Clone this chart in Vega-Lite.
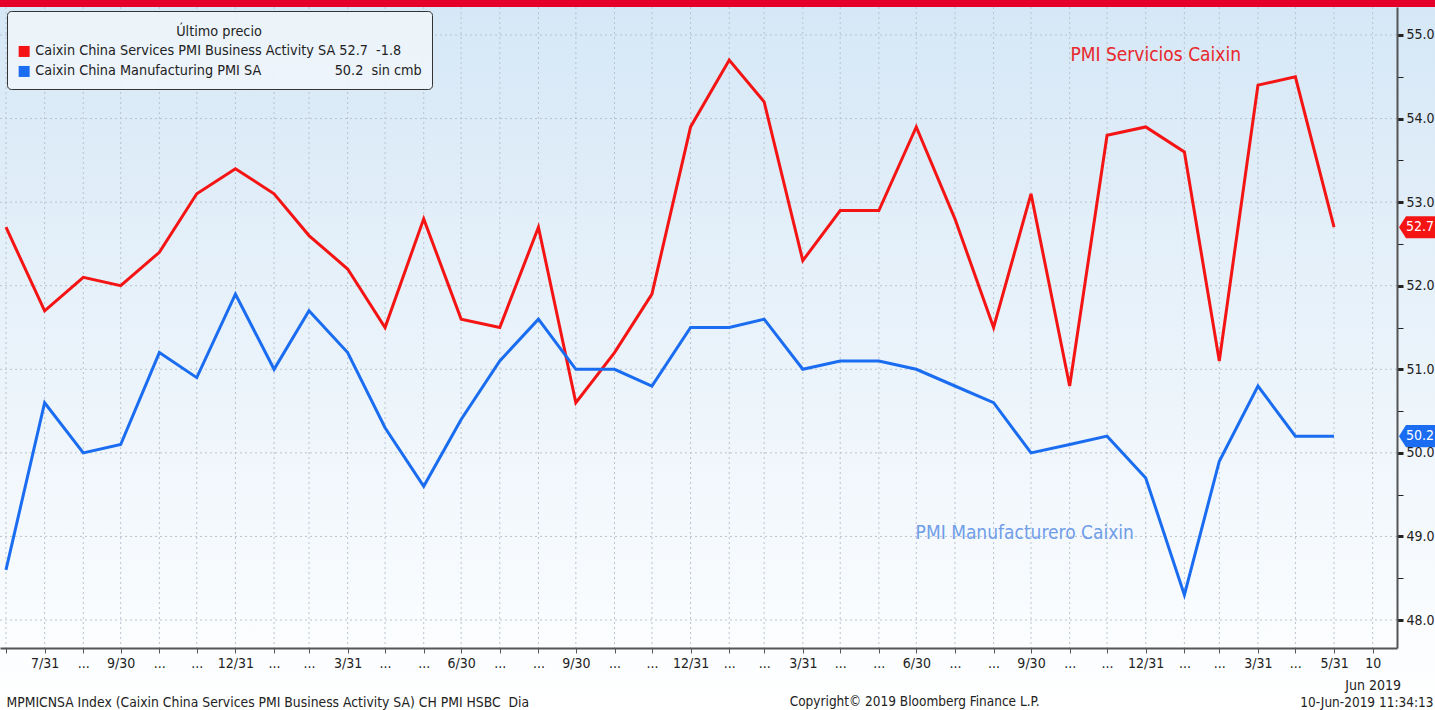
{
  "$schema": "https://vega.github.io/schema/vega-lite/v6.json",
  "width": 1397,
  "height": 641,
  "autosize": {"type": "none"},
  "padding": {"top": 7, "left": 0, "right": 38, "bottom": 62},
  "background": "#ffffff",
  "config": {"view": {"stroke": null}, "font": "DejaVu Sans Condensed, Liberation Sans Narrow, DejaVu Sans", "axis": {"labelOverlap": false}},
  "data": {"values": [
    {"date": "2016-06-30", "services": 52.7, "manufacturing": 48.6},
    {"date": "2016-07-31", "services": 51.7, "manufacturing": 50.6},
    {"date": "2016-08-31", "services": 52.1, "manufacturing": 50.0},
    {"date": "2016-09-30", "services": 52.0, "manufacturing": 50.1},
    {"date": "2016-10-31", "services": 52.4, "manufacturing": 51.2},
    {"date": "2016-11-30", "services": 53.1, "manufacturing": 50.9},
    {"date": "2016-12-31", "services": 53.4, "manufacturing": 51.9},
    {"date": "2017-01-31", "services": 53.1, "manufacturing": 51.0},
    {"date": "2017-02-28", "services": 52.6, "manufacturing": 51.7},
    {"date": "2017-03-31", "services": 52.2, "manufacturing": 51.2},
    {"date": "2017-04-30", "services": 51.5, "manufacturing": 50.3},
    {"date": "2017-05-31", "services": 52.8, "manufacturing": 49.6},
    {"date": "2017-06-30", "services": 51.6, "manufacturing": 50.4},
    {"date": "2017-07-31", "services": 51.5, "manufacturing": 51.1},
    {"date": "2017-08-31", "services": 52.7, "manufacturing": 51.6},
    {"date": "2017-09-30", "services": 50.6, "manufacturing": 51.0},
    {"date": "2017-10-31", "services": 51.2, "manufacturing": 51.0},
    {"date": "2017-11-30", "services": 51.9, "manufacturing": 50.8},
    {"date": "2017-12-31", "services": 53.9, "manufacturing": 51.5},
    {"date": "2018-01-31", "services": 54.7, "manufacturing": 51.5},
    {"date": "2018-02-28", "services": 54.2, "manufacturing": 51.6},
    {"date": "2018-03-31", "services": 52.3, "manufacturing": 51.0},
    {"date": "2018-04-30", "services": 52.9, "manufacturing": 51.1},
    {"date": "2018-05-31", "services": 52.9, "manufacturing": 51.1},
    {"date": "2018-06-30", "services": 53.9, "manufacturing": 51.0},
    {"date": "2018-07-31", "services": 52.8, "manufacturing": 50.8},
    {"date": "2018-08-31", "services": 51.5, "manufacturing": 50.6},
    {"date": "2018-09-30", "services": 53.1, "manufacturing": 50.0},
    {"date": "2018-10-31", "services": 50.8, "manufacturing": 50.1},
    {"date": "2018-11-30", "services": 53.8, "manufacturing": 50.2},
    {"date": "2018-12-31", "services": 53.9, "manufacturing": 49.7},
    {"date": "2019-01-31", "services": 53.6, "manufacturing": 48.3},
    {"date": "2019-02-28", "services": 51.1, "manufacturing": 49.9},
    {"date": "2019-03-31", "services": 54.4, "manufacturing": 50.8},
    {"date": "2019-04-30", "services": 54.5, "manufacturing": 50.2},
    {"date": "2019-05-31", "services": 52.7, "manufacturing": 50.2}
  ]},
  "layer": [
    {
      "data": {"values": [{}]},
      "mark": {"type": "rect", "fill": {"gradient": "linear", "x1": 0, "y1": 0, "x2": 0, "y2": 1, "stops": [{"offset": 0, "color": "#d5e7f6"}, {"offset": 1, "color": "#ffffff"}]}},
      "encoding": {
        "x": {"datum": {"year": 2016, "month": 6, "date": 20, "utc": true}, "type": "temporal"},
        "x2": {"datum": {"year": 2019, "month": 8, "date": 25, "utc": true}},
        "y": {"datum": 55.42, "type": "quantitative"},
        "y2": {"datum": 46.92}
      }
    },
    {
      "data": {"values": [{}]},
      "mark": {"type": "rect", "fill": "#e4002b"},
      "encoding": {
        "x": {"datum": {"year": 2016, "month": 6, "date": 20, "utc": true}, "type": "temporal"},
        "x2": {"datum": {"year": 2019, "month": 8, "date": 25, "utc": true}},
        "y": {"datum": 55.5, "type": "quantitative"},
        "y2": {"datum": 55.335}
      }
    },
    {
      "mark": {"type": "rule", "stroke": "#b9c3ce", "strokeWidth": 1, "strokeDash": [2, 3]},
      "encoding": {"x": {"field": "date", "type": "temporal"}}
    },
    {
      "data": {"values": [{}]},
      "mark": {"type": "rule", "stroke": "#b9c3ce", "strokeWidth": 1, "strokeDash": [2, 3]},
      "encoding": {"x": {"datum": {"year": 2019, "month": 7, "date": 1, "utc": true}, "type": "temporal"}}
    },
    {
      "data": {"values": [{"level": 48}, {"level": 49}, {"level": 50}, {"level": 51}, {"level": 52}, {"level": 53}, {"level": 54}, {"level": 55}]},
      "mark": {"type": "rule", "stroke": "#b9c3ce", "strokeWidth": 1, "strokeDash": [2, 3]},
      "encoding": {"y": {"field": "level", "type": "quantitative"}}
    },
    {
      "transform": [{"fold": ["services", "manufacturing"], "as": ["series", "value"]}],
      "mark": {"type": "line", "strokeWidth": 3, "strokeJoin": "miter"},
      "encoding": {
        "x": {
          "field": "date", "type": "temporal",
          "scale": {"type": "utc", "domain": [{"year": 2016, "month": 6, "date": 25, "hours": 5, "utc": true}, {"year": 2019, "month": 7, "date": 20, "hours": 12, "utc": true}]},
          "axis": {
            "tickCount": 200,
            "values": [
              {"year": 2016, "month": 6, "date": 30, "utc": true},
              {"year": 2016, "month": 7, "date": 31, "utc": true},
              {"year": 2016, "month": 8, "date": 31, "utc": true},
              {"year": 2016, "month": 9, "date": 30, "utc": true},
              {"year": 2016, "month": 10, "date": 31, "utc": true},
              {"year": 2016, "month": 11, "date": 30, "utc": true},
              {"year": 2016, "month": 12, "date": 31, "utc": true},
              {"year": 2017, "month": 1, "date": 31, "utc": true},
              {"year": 2017, "month": 2, "date": 28, "utc": true},
              {"year": 2017, "month": 3, "date": 31, "utc": true},
              {"year": 2017, "month": 4, "date": 30, "utc": true},
              {"year": 2017, "month": 5, "date": 31, "utc": true},
              {"year": 2017, "month": 6, "date": 30, "utc": true},
              {"year": 2017, "month": 7, "date": 31, "utc": true},
              {"year": 2017, "month": 8, "date": 31, "utc": true},
              {"year": 2017, "month": 9, "date": 30, "utc": true},
              {"year": 2017, "month": 10, "date": 31, "utc": true},
              {"year": 2017, "month": 11, "date": 30, "utc": true},
              {"year": 2017, "month": 12, "date": 31, "utc": true},
              {"year": 2018, "month": 1, "date": 31, "utc": true},
              {"year": 2018, "month": 2, "date": 28, "utc": true},
              {"year": 2018, "month": 3, "date": 31, "utc": true},
              {"year": 2018, "month": 4, "date": 30, "utc": true},
              {"year": 2018, "month": 5, "date": 31, "utc": true},
              {"year": 2018, "month": 6, "date": 30, "utc": true},
              {"year": 2018, "month": 7, "date": 31, "utc": true},
              {"year": 2018, "month": 8, "date": 31, "utc": true},
              {"year": 2018, "month": 9, "date": 30, "utc": true},
              {"year": 2018, "month": 10, "date": 31, "utc": true},
              {"year": 2018, "month": 11, "date": 30, "utc": true},
              {"year": 2018, "month": 12, "date": 31, "utc": true},
              {"year": 2019, "month": 1, "date": 31, "utc": true},
              {"year": 2019, "month": 2, "date": 28, "utc": true},
              {"year": 2019, "month": 3, "date": 31, "utc": true},
              {"year": 2019, "month": 4, "date": 30, "utc": true},
              {"year": 2019, "month": 5, "date": 31, "utc": true},
              {"year": 2019, "month": 7, "date": 1, "utc": true}
            ],
            "labelExpr": "(utcyear(datum.value) == 2019 && utcmonth(datum.value) == 6) ? ['10', 'Jun 2019'] : (utcyear(datum.value) == 2016 && utcmonth(datum.value) == 5) ? '' : ((utcmonth(datum.value) % 3 == 2) || (utcyear(datum.value) == 2016 && utcmonth(datum.value) == 6) || (utcyear(datum.value) == 2019 && utcmonth(datum.value) == 4)) ? (utcmonth(datum.value) + 1) + '/' + utcdate(datum.value) : '...'",
            "grid": false,
            "zindex": 1,
            "domainColor": "#555555",
            "domainWidth": 2,
            "tickColor": "#555555",
            "tickSize": 5,
            "tickWidth": 1,
            "labelFontSize": 14,
            "labelColor": "#222222",
            "labelPadding": 3,
            "labelLineHeight": 22,
            "labelOverlap": false,
            "labelFlush": false,
            "labelSeparation": 0,
            "title": "MPMICNSA Index (Caixin China Services PMI Business Activity SA) CH PMI HSBC\u00a0\u00a0Dia",
            "titleFontSize": 13.8,
            "titleFontWeight": "normal",
            "titleColor": "#222222",
            "titleAnchor": "start",
            "titleAlign": "left",
            "titleBaseline": "middle",
            "titleX": 6,
            "titleY": 54
          }
        },
        "y": {
          "field": "value", "type": "quantitative",
          "scale": {"domain": [47.665, 55.335], "nice": false, "zero": false},
          "axis": {
            "orient": "right",
            "tickCount": 100,
            "values": [48, 48.5, 49, 49.5, 50, 50.5, 51, 51.5, 52, 52.5, 53, 53.5, 54, 54.5, 55],
            "labelExpr": "datum.value % 1 == 0 ? format(datum.value, '.1f') : ''",
            "grid": false,
            "zindex": 1,
            "domainColor": "#555555",
            "domainWidth": 2,
            "tickColor": "#222222",
            "tickSize": 6,
            "tickWidth": {"condition": {"test": "datum.value % 1 == 0", "value": 3}, "value": 1},
            "labelFontSize": 14,
            "labelColor": "#222222",
            "labelPadding": 3,
            "labelOverlap": false,
            "title": "10-Jun-2019 11:34:13",
            "titleFontSize": 13.5,
            "titleFontWeight": "normal",
            "titleColor": "#222222",
            "titleAngle": 0,
            "titleAlign": "right",
            "titleBaseline": "middle",
            "titleX": 36,
            "titleY": 695
          }
        },
        "color": {
          "field": "series", "type": "nominal",
          "scale": {"domain": ["services", "manufacturing"], "range": ["#f41414", "#1a6cf0"]},
          "legend": {
            "title": "Último precio",
            "orient": "none",
            "legendX": 7,
            "legendY": 4,
            "direction": "vertical",
            "fillColor": "rgba(238,245,251,0.9)",
            "strokeColor": "#333333",
            "cornerRadius": 4,
            "padding": 10,
            "titleAnchor": "middle",
            "titleFontSize": 14.3,
            "titleFontWeight": "normal",
            "titleColor": "#222222",
            "titleBaseline": "line-top",
            "titleLineHeight": 22,
            "titlePadding": 9,
            "labelFontSize": 14.3,
            "labelColor": "#222222",
            "labelLimit": 600,
            "labelOffset": 4,
            "rowPadding": 5,
            "symbolType": "square",
            "symbolSize": 121,
            "symbolStrokeWidth": 0,
            "encode": {"symbols": {"update": {"fill": {"scale": "color", "field": "value"}, "fillOpacity": {"value": 1}}}},
            "labelExpr": "datum.value == 'services' ? 'Caixin China Services PMI Business Activity SA 52.7\u00a0\u00a0-1.8' : 'Caixin China Manufacturing PMI SA\u00a0\u00a0\u00a0\u00a0\u00a0\u00a0\u00a0\u00a0\u00a0\u00a0\u00a0\u00a0\u00a0\u00a0\u00a0\u00a0\u00a0\u00a050.2\u00a0\u00a0sin cmb'"
          }
        }
      }
    },
    {
      "transform": [
        {"fold": ["services"], "as": ["series", "value"]},
        {"filter": "utcyear(datum.date) == 2019 && utcmonth(datum.date) == 4"}
      ],
      "mark": {"type": "point", "shape": "M -1 0 L -0.63 -0.58 L 1 -0.58 L 1 0.58 L -0.63 0.58 Z", "size": 1444, "filled": true, "opacity": 1, "fill": "#f41414", "strokeWidth": 0, "xOffset": 21},
      "encoding": {"x": {"value": "width"}, "y": {"field": "value", "type": "quantitative"}}
    },
    {
      "transform": [
        {"fold": ["manufacturing"], "as": ["series", "value"]},
        {"filter": "utcyear(datum.date) == 2019 && utcmonth(datum.date) == 4"}
      ],
      "mark": {"type": "point", "shape": "M -1 0 L -0.63 -0.58 L 1 -0.58 L 1 0.58 L -0.63 0.58 Z", "size": 1444, "filled": true, "opacity": 1, "fill": "#1a6cf0", "strokeWidth": 0, "xOffset": 21},
      "encoding": {"x": {"value": "width"}, "y": {"field": "value", "type": "quantitative"}}
    },
    {
      "transform": [
        {"fold": ["services", "manufacturing"], "as": ["series", "value"]},
        {"filter": "utcyear(datum.date) == 2019 && utcmonth(datum.date) == 4"}
      ],
      "mark": {"type": "text", "color": "#ffffff", "fontSize": 14, "align": "center", "baseline": "middle", "xOffset": 23},
      "encoding": {"x": {"value": "width"}, "y": {"field": "value", "type": "quantitative"}, "text": {"field": "value", "type": "quantitative", "format": ".1f"}}
    },
    {
      "data": {"values": [{}]},
      "mark": {"type": "text", "text": "PMI Servicios Caixin", "color": "#e8282c", "fontSize": 19, "align": "center", "baseline": "middle"},
      "encoding": {
        "x": {"datum": {"year": 2019, "month": 1, "date": 8, "utc": true}, "type": "temporal"},
        "y": {"datum": 54.76, "type": "quantitative"}
      }
    },
    {
      "data": {"values": [{}]},
      "mark": {"type": "text", "text": "PMI Manufacturero Caixin", "color": "#6f9de8", "fontSize": 19, "align": "center", "baseline": "middle"},
      "encoding": {
        "x": {"datum": {"year": 2018, "month": 9, "date": 25, "utc": true}, "type": "temporal"},
        "y": {"datum": 49.04, "type": "quantitative"}
      }
    },
    {
      "data": {"values": [{}]},
      "mark": {"type": "text", "text": "Copyright© 2019 Bloomberg Finance L.P.", "color": "#222222", "fontSize": 13.5, "align": "center", "baseline": "middle"},
      "encoding": {
        "x": {"datum": {"year": 2018, "month": 6, "date": 28, "hours": 17, "utc": true}, "type": "temporal"},
        "y": {"datum": 47.019, "type": "quantitative"}
      }
    }
  ]
}
